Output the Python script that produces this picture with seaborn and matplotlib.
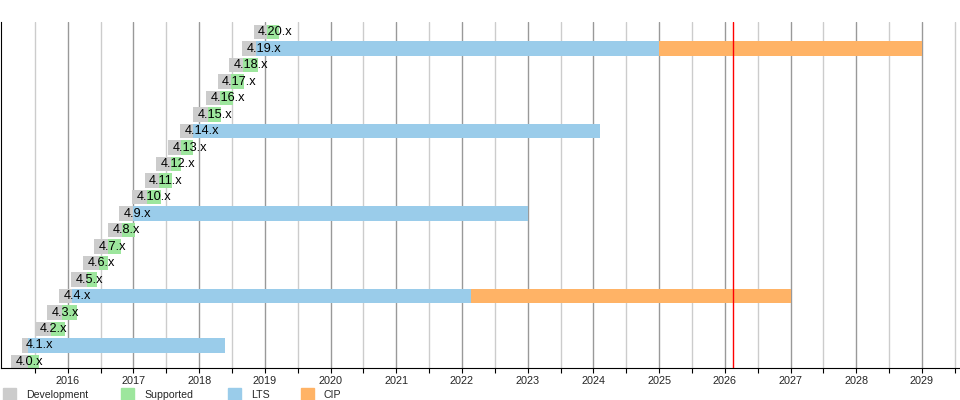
import pandas as pd
import matplotlib
matplotlib.use("Agg")
import matplotlib.pyplot as plt
import seaborn as sns
from matplotlib.patches import Rectangle

# Release data (decimal years)
versions = ["4.0", "4.1", "4.2", "4.3", "4.4", "4.5", "4.6", "4.7", "4.8", "4.9",
            "4.10", "4.11", "4.12", "4.13", "4.14", "4.15", "4.16", "4.17", "4.18",
            "4.19", "4.20"]
dev_start = [2015.14, 2015.30, 2015.50, 2015.69, 2015.87, 2016.05, 2016.23, 2016.40,
             2016.61, 2016.78, 2016.98, 2017.17, 2017.35, 2017.53, 2017.71, 2017.91,
             2018.11, 2018.28, 2018.46, 2018.65, 2018.83]
release = [2015.39, 2015.39, 2015.75, 2015.92, 2016.06, 2016.29, 2016.47, 2016.62,
           2016.82, 2017.00, 2017.20, 2017.39, 2017.57, 2017.73, 2017.91, 2018.13,
           2018.32, 2018.49, 2018.67, 2018.87, 2019.04]
support_end = [2015.56, 2018.40, 2015.96, 2016.14, 2022.14, 2016.44, 2016.62, 2016.81,
               2017.02, 2023.00, 2017.42, 2017.58, 2017.73, 2017.91, 2024.10, 2018.34,
               2018.52, 2018.69, 2018.89, 2025.00, 2019.22]
lts_versions = ["4.1", "4.4", "4.9", "4.14", "4.19"]
cip_versions = ["4.4", "4.19"]
cip_end = [2027.00, 2029.00]
today = 2026.12

phases = ["Development", "Supported", "LTS", "CIP"]
colors = {"Development": "#cccccc", "Supported": "#9de69d",
          "LTS": "#9accea", "CIP": "#ffb366"}

rows = []
for v, s, r, e in zip(versions, dev_start, release, support_end):
    rows.append((v, "Development", s, r))
    rows.append((v, "LTS" if v in lts_versions else "Supported", r, e))
for v, e in zip(cip_versions, cip_end):
    rows.append((v, "CIP", support_end[versions.index(v)], e))
df = pd.DataFrame(rows, columns=["version", "phase", "start", "end"])
df["length"] = df["end"] - df["start"]

order = versions[::-1]
px_year = 65.85
x0 = 2015 - 1 / px_year
x1 = 2015 + 960 / px_year

sns.set_style("white")
plt.rcParams["font.family"] = ["Liberation Sans", "DejaVu Sans"]

fig = plt.figure(figsize=(9.6, 4), dpi=100)
ax = fig.add_axes([1 / 960, 32 / 400, 959 / 960, 346 / 400])

# grid lines behind the bars
for yr in range(2015, 2030):
    ax.axvline(yr + 0.5, color="#cccccc", lw=1.0, zorder=0)
    if yr > 2015:
        ax.axvline(yr, color="#999999", lw=1.0, zorder=0)

for ph in phases:
    sub = df[df["phase"] == ph].copy()
    sub["pos"] = sub["version"].map(order.index)
    sub = sub.sort_values("pos")
    sns.barplot(data=sub, x="length", y="version", order=order, orient="h",
                color=colors[ph], width=0.875, errorbar=None, saturation=1,
                left=sub["start"].values, linewidth=0, ax=ax, zorder=2)

for v, s in zip(versions, dev_start):
    ax.text(s + 4.5 / px_year, order.index(v), v + ".x", va="center",
            ha="left", fontsize=9.2, color="black", zorder=3)

ax.axvline(today, color="#ff0000", lw=1.0, zorder=4)

ax.set_xlim(x0, x1)
ax.set_ylim(20.365, -0.62)
ax.set_xticks(range(2016, 2030))
ax.set_xticks([y + 0.5 for y in range(2015, 2030)], minor=True)
ax.tick_params(axis="x", which="both", direction="out", length=3.5, width=0.8,
               color="black", labelsize=7.8, pad=2, bottom=True)
ax.set_yticks([])
ax.set_xlabel("")
ax.set_ylabel("")
for side in ["top", "right"]:
    ax.spines[side].set_visible(False)
for side in ["left", "bottom"]:
    ax.spines[side].set_color("black")
    ax.spines[side].set_linewidth(0.8)

# legend row along the bottom edge
legend_x = [3, 121, 228, 301]
for ph, lx in zip(phases, legend_x):
    fig.patches.append(Rectangle((lx / 960, 0), 13 / 960, 12 / 400,
                                 transform=fig.transFigure, color=colors[ph]))
    fig.text((lx + 23) / 960, 5 / 400, ph, fontsize=7.6, va="center", ha="left")

plt.savefig("out.png", dpi=100)
